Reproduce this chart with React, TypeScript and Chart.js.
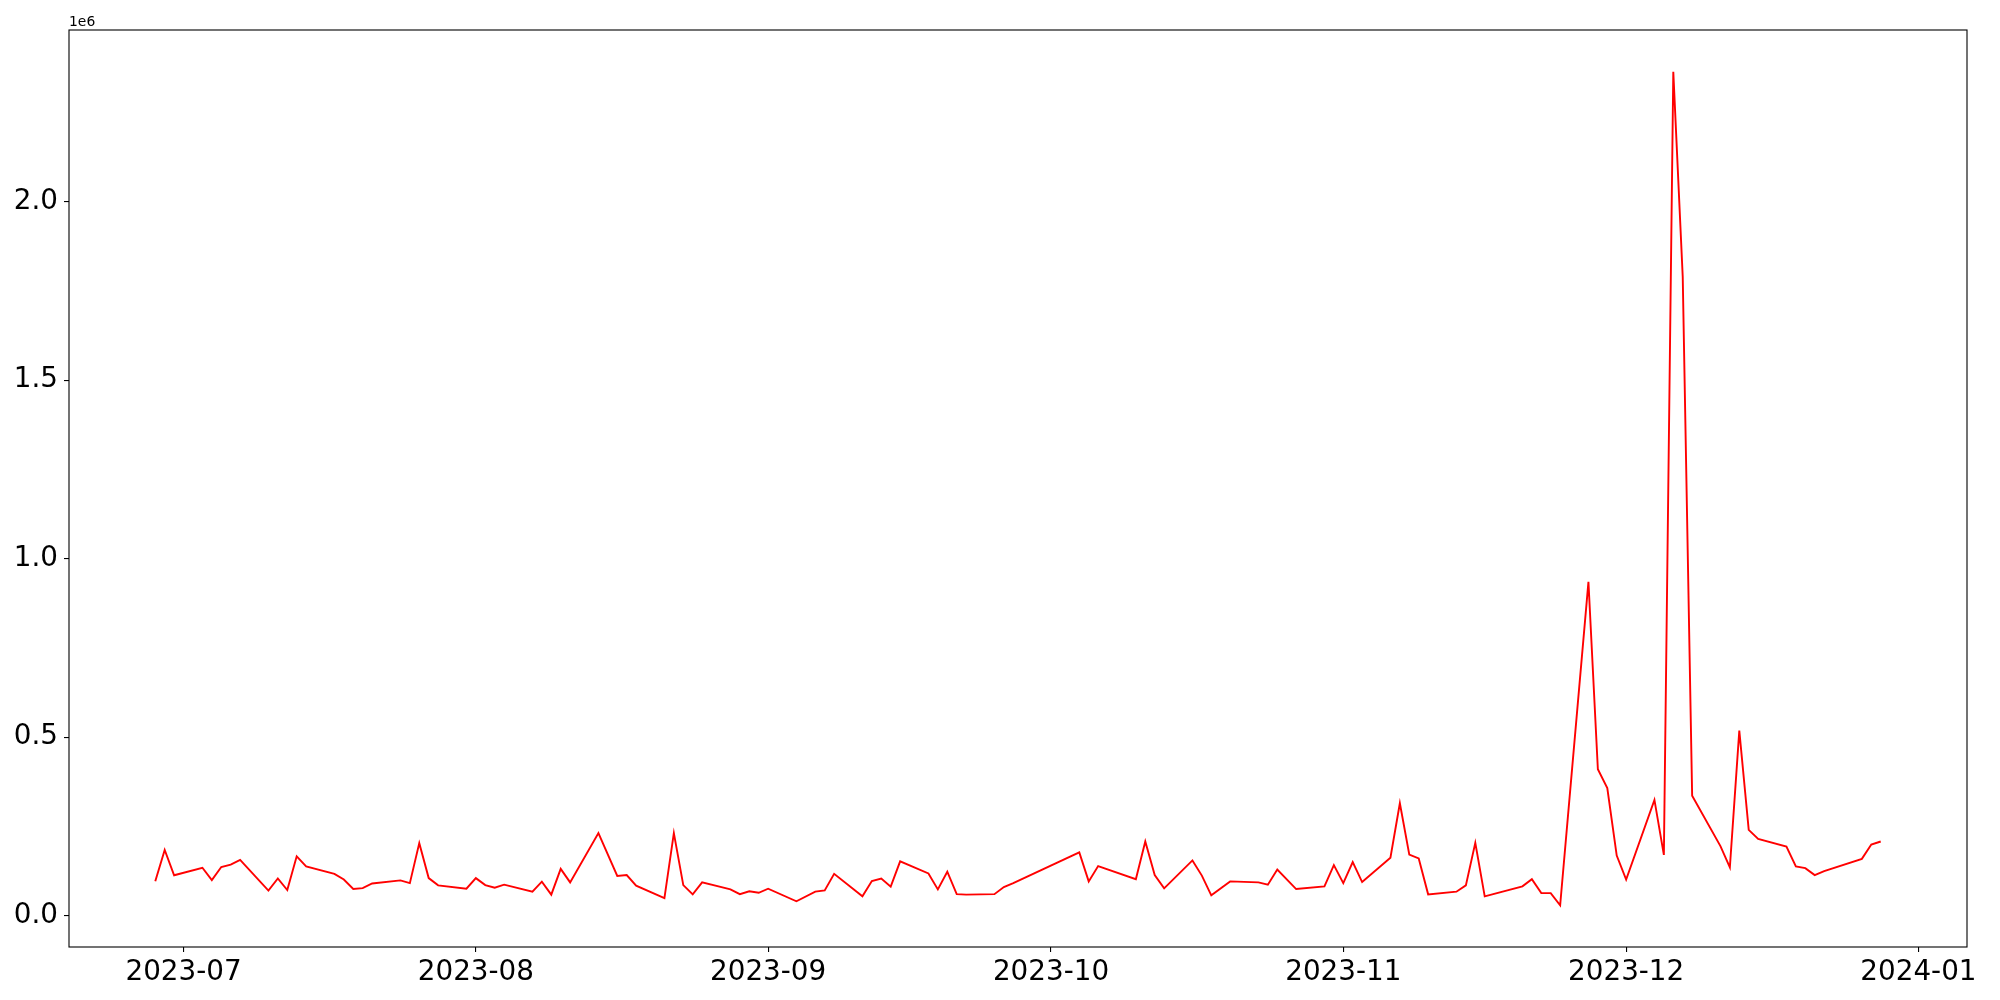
import React, { useEffect, useRef } from "react";
import { Chart, registerables } from "chart.js";

Chart.register(...registerables);

const dates: string[] = [
  "2023-06-28", "2023-06-29", "2023-06-30",
  "2023-07-03", "2023-07-04", "2023-07-05", "2023-07-06", "2023-07-07",
  "2023-07-10", "2023-07-11", "2023-07-12", "2023-07-13", "2023-07-14",
  "2023-07-17", "2023-07-18", "2023-07-19", "2023-07-20", "2023-07-21",
  "2023-07-24", "2023-07-25", "2023-07-26", "2023-07-27", "2023-07-28",
  "2023-07-31", "2023-08-01", "2023-08-02", "2023-08-03", "2023-08-04",
  "2023-08-07", "2023-08-08", "2023-08-09", "2023-08-10", "2023-08-11",
  "2023-08-14", "2023-08-16", "2023-08-17", "2023-08-18",
  "2023-08-21", "2023-08-22", "2023-08-23", "2023-08-24", "2023-08-25",
  "2023-08-28", "2023-08-29", "2023-08-30", "2023-08-31", "2023-09-01",
  "2023-09-04", "2023-09-06", "2023-09-07", "2023-09-08",
  "2023-09-11", "2023-09-12", "2023-09-13", "2023-09-14", "2023-09-15",
  "2023-09-18", "2023-09-19", "2023-09-20", "2023-09-21", "2023-09-22",
  "2023-09-25", "2023-09-26", "2023-09-27",
  "2023-10-04", "2023-10-05", "2023-10-06",
  "2023-10-10", "2023-10-11", "2023-10-12", "2023-10-13",
  "2023-10-16", "2023-10-17", "2023-10-18", "2023-10-20",
  "2023-10-23", "2023-10-24", "2023-10-25", "2023-10-27",
  "2023-10-30", "2023-10-31", "2023-11-01", "2023-11-02", "2023-11-03",
  "2023-11-06", "2023-11-07", "2023-11-08", "2023-11-09", "2023-11-10",
  "2023-11-13", "2023-11-14", "2023-11-15", "2023-11-16",
  "2023-11-20", "2023-11-21", "2023-11-22", "2023-11-23", "2023-11-24",
  "2023-11-27", "2023-11-28", "2023-11-29", "2023-11-30", "2023-12-01",
  "2023-12-04", "2023-12-05", "2023-12-06", "2023-12-07", "2023-12-08",
  "2023-12-11", "2023-12-12", "2023-12-13", "2023-12-14", "2023-12-15",
  "2023-12-18", "2023-12-19", "2023-12-20", "2023-12-21", "2023-12-22",
  "2023-12-26", "2023-12-27", "2023-12-28",
];

const values: number[] = [
  96000, 184000, 113000,
  134000, 99600, 136000, 143000, 156000,
  70000, 104000, 71600, 166000, 138000,
  117000, 101000, 74400, 77000, 90000,
  98600, 91000, 203000, 105000, 84700,
  75400, 105000, 85500, 78000, 86600,
  67000, 95000, 58700, 131000, 93000,
  231000, 111000, 113500, 83800,
  49000, 231000, 85500, 59500, 93000,
  73500, 60000, 68000, 64000, 75400,
  40000, 67000, 70700, 117000,
  54000, 96700, 104000, 81000, 152000,
  118000, 73500, 123000, 60000, 58700,
  60000, 80000, 91000,
  177000, 95800, 138600,
  102000, 207600, 113500, 76300,
  154500, 112000, 56700, 95800,
  93000, 86600, 129000, 74400,
  82000, 141500, 91000, 150000, 94000,
  162000, 314700, 171000, 160000, 59500,
  67000, 84700, 204000, 54000,
  82000, 102000, 63000, 63000, 28800,
  935000, 410000, 357000, 168000, 101000,
  324000, 170000, 2364000, 1790000, 336000,
  194600, 135000, 518000, 240000, 215000,
  193600, 138000, 133000, 113500, 124700,
  159000, 199000, 207600,
];

const xTickDates: string[] = [
  "2023-07-01", "2023-08-01", "2023-09-01", "2023-10-01",
  "2023-11-01", "2023-12-01", "2024-01-01",
];

const yTickValues: number[] = [0, 500000, 1000000, 1500000, 2000000];

const dayNum = (s: string) => {
  const [y, m, d] = s.split("-").map(Number);
  return Date.UTC(y, m - 1, d) / 86400000;
};

const fmtDay = (n: number) => {
  const dt = new Date(Math.round(n) * 86400000);
  const y = dt.getUTCFullYear();
  const m = String(dt.getUTCMonth() + 1).padStart(2, "0");
  return `${y}-${m}`;
};

const FONT = "'DejaVu Sans', 'Liberation Sans', sans-serif";

export default function App() {
  const ref = useRef<HTMLCanvasElement | null>(null);

  useEffect(() => {
    document.body.style.margin = "0";
    const canvas = ref.current;
    if (!canvas) return;

    const xs = dates.map(dayNum);
    const xMinD = Math.min(...xs);
    const xMaxD = Math.max(...xs);
    const xPad = (xMaxD - xMinD) * 0.05;
    const yMinD = Math.min(...values);
    const yMaxD = Math.max(...values);
    const yPad = (yMaxD - yMinD) * 0.05;

    const framePlugin = {
      id: "frame",
      afterDraw(chart: any) {
        const { ctx, chartArea } = chart;
        ctx.save();
        ctx.strokeStyle = "#000";
        ctx.lineWidth = 1.1;
        ctx.strokeRect(
          chartArea.left,
          chartArea.top,
          chartArea.right - chartArea.left,
          chartArea.bottom - chartArea.top
        );
        ctx.fillStyle = "#000";
        ctx.font = `13.9px ${FONT}`;
        ctx.textAlign = "left";
        ctx.textBaseline = "alphabetic";
        ctx.fillText("1e6", chartArea.left, 26);
        ctx.restore();
      },
    };

    const chart = new Chart(canvas, {
      type: "line",
      data: {
        datasets: [
          {
            data: xs.map((x, i) => ({ x, y: values[i] })),
            borderColor: "#ff0000",
            borderWidth: 1.9,
            pointRadius: 0,
            tension: 0,
            fill: false,
          },
        ],
      },
      options: {
        animation: false,
        responsive: false,
        maintainAspectRatio: false,
        layout: { padding: { top: 30, right: 33, left: 0, bottom: 0 } },
        plugins: {
          legend: { display: false },
          tooltip: { enabled: false },
        },
        scales: {
          x: {
            type: "linear",
            min: xMinD - xPad,
            max: xMaxD + xPad,
            afterBuildTicks: (scale: any) => {
              scale.ticks = xTickDates.map((d) => ({ value: dayNum(d) }));
            },
            afterFit: (scale: any) => {
              scale.height = 53;
            },
            ticks: {
              autoSkip: false,
              maxRotation: 0,
              minRotation: 0,
              padding: 4,
              color: "#000",
              font: { family: FONT, size: 27.8 },
              callback: (v: any) => fmtDay(Number(v)),
            },
            grid: {
              display: true,
              drawOnChartArea: false,
              drawTicks: true,
              tickLength: 5,
              color: "#000",
              lineWidth: 1.1,
            },
            border: { display: false },
          },
          y: {
            type: "linear",
            min: yMinD - yPad,
            max: yMaxD + yPad,
            afterBuildTicks: (scale: any) => {
              scale.ticks = yTickValues.map((v) => ({ value: v }));
            },
            afterFit: (scale: any) => {
              scale.width = 69;
            },
            ticks: {
              autoSkip: false,
              padding: 6,
              color: "#000",
              font: { family: FONT, size: 27.8 },
              callback: (v: any) => (Number(v) / 1e6).toFixed(1),
            },
            grid: {
              display: true,
              drawOnChartArea: false,
              drawTicks: true,
              tickLength: 5,
              color: "#000",
              lineWidth: 1.1,
            },
            border: { display: false },
          },
        },
      },
      plugins: [framePlugin],
    });

    return () => chart.destroy();
  }, []);

  return (
    <div style={{ position: "absolute", left: 0, top: 0, width: 2000, height: 1000, background: "#fff" }}>
      <canvas ref={ref} width={2000} height={1000} style={{ width: 2000, height: 1000, display: "block" }} />
    </div>
  );
}
